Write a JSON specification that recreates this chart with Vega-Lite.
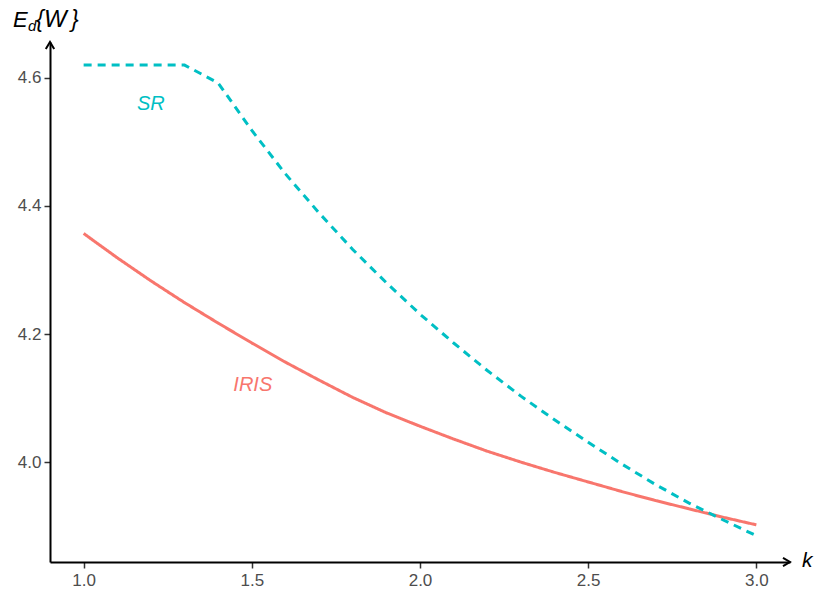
{
  "$schema": "https://vega.github.io/schema/vega-lite/v6.json",
  "width": 740,
  "height": 520,
  "autosize": {"type": "none"},
  "padding": {"left": 50, "top": 42, "right": 27, "bottom": 32},
  "background": "white",
  "config": {
    "view": {"stroke": null},
    "font": "Liberation Sans"
  },
  "datasets": {
    "curves": [
      {"k": 1.0, "value": 4.357, "method": "IRIS"},
      {"k": 1.1, "value": 4.319, "method": "IRIS"},
      {"k": 1.2, "value": 4.283, "method": "IRIS"},
      {"k": 1.3, "value": 4.249, "method": "IRIS"},
      {"k": 1.4, "value": 4.217, "method": "IRIS"},
      {"k": 1.5, "value": 4.186, "method": "IRIS"},
      {"k": 1.6, "value": 4.156, "method": "IRIS"},
      {"k": 1.7, "value": 4.128, "method": "IRIS"},
      {"k": 1.8, "value": 4.101, "method": "IRIS"},
      {"k": 1.9, "value": 4.077, "method": "IRIS"},
      {"k": 2.0, "value": 4.056, "method": "IRIS"},
      {"k": 2.1, "value": 4.036, "method": "IRIS"},
      {"k": 2.2, "value": 4.017, "method": "IRIS"},
      {"k": 2.3, "value": 4.000, "method": "IRIS"},
      {"k": 2.4, "value": 3.984, "method": "IRIS"},
      {"k": 2.5, "value": 3.969, "method": "IRIS"},
      {"k": 2.6, "value": 3.954, "method": "IRIS"},
      {"k": 2.7, "value": 3.940, "method": "IRIS"},
      {"k": 2.8, "value": 3.927, "method": "IRIS"},
      {"k": 2.9, "value": 3.914, "method": "IRIS"},
      {"k": 3.0, "value": 3.902, "method": "IRIS"},
      {"k": 1.0, "value": 4.620, "method": "SR"},
      {"k": 1.1, "value": 4.620, "method": "SR"},
      {"k": 1.2, "value": 4.620, "method": "SR"},
      {"k": 1.3, "value": 4.620, "method": "SR"},
      {"k": 1.4, "value": 4.592, "method": "SR"},
      {"k": 1.5, "value": 4.518, "method": "SR"},
      {"k": 1.6, "value": 4.450, "method": "SR"},
      {"k": 1.7, "value": 4.389, "method": "SR"},
      {"k": 1.8, "value": 4.332, "method": "SR"},
      {"k": 1.9, "value": 4.280, "method": "SR"},
      {"k": 2.0, "value": 4.231, "method": "SR"},
      {"k": 2.1, "value": 4.186, "method": "SR"},
      {"k": 2.2, "value": 4.143, "method": "SR"},
      {"k": 2.3, "value": 4.103, "method": "SR"},
      {"k": 2.4, "value": 4.066, "method": "SR"},
      {"k": 2.5, "value": 4.031, "method": "SR"},
      {"k": 2.6, "value": 3.997, "method": "SR"},
      {"k": 2.7, "value": 3.965, "method": "SR"},
      {"k": 2.8, "value": 3.936, "method": "SR"},
      {"k": 2.9, "value": 3.910, "method": "SR"},
      {"k": 3.0, "value": 3.885, "method": "SR"}
    ],
    "labels": [
      {"k": 1.2, "value": 4.559, "method": "SR", "label": "SR"},
      {"k": 1.503, "value": 4.121, "method": "IRIS", "label": "IRIS"}
    ],
    "one": [{}]
  },
  "layer": [
    {
      "data": {"name": "curves"},
      "mark": {"type": "line", "strokeWidth": 3, "clip": false},
      "encoding": {
        "x": {
          "field": "k", "type": "quantitative",
          "scale": {"domain": [0.9, 3.1], "nice": false, "zero": false},
          "axis": {
            "title": null, "values": [1.0, 1.5, 2.0, 2.5, 3.0], "format": ".1f",
            "grid": false, "domainColor": "black", "domainWidth": 2,
            "tickColor": "#333333", "tickWidth": 1.5, "tickSize": 6,
            "labelColor": "#4D4D4D", "labelFontSize": 17, "labelPadding": 4,
            "labelFont": "Liberation Sans"
          }
        },
        "y": {
          "field": "value", "type": "quantitative",
          "scale": {"domain": [3.844, 4.656], "nice": false, "zero": false},
          "axis": {
            "title": null, "values": [4.0, 4.2, 4.4, 4.6], "format": ".1f",
            "grid": false, "domainColor": "black", "domainWidth": 2,
            "tickColor": "#333333", "tickWidth": 1.5, "tickSize": 6,
            "labelColor": "#4D4D4D", "labelFontSize": 17, "labelPadding": 3,
            "labelFont": "Liberation Sans"
          }
        },
        "color": {
          "field": "method", "type": "nominal",
          "scale": {"domain": ["IRIS", "SR"], "range": ["#F8766D", "#00BFC4"]},
          "legend": null
        },
        "strokeDash": {
          "field": "method", "type": "nominal",
          "scale": {"domain": ["IRIS", "SR"], "range": [[1, 0], [8, 6]]},
          "legend": null
        }
      }
    },
    {
      "data": {"name": "labels"},
      "mark": {"type": "text", "fontSize": 20, "fontStyle": "italic", "font": "Liberation Sans", "align": "center", "baseline": "middle"},
      "encoding": {
        "x": {"field": "k", "type": "quantitative"},
        "y": {"field": "value", "type": "quantitative"},
        "text": {"field": "label"},
        "color": {"field": "method", "type": "nominal", "legend": null}
      }
    },
    {
      "data": {"name": "one"},
      "mark": {"type": "point", "shape": "M -0.6 1 L 0 0 L 0.6 1", "size": 196, "filled": false, "stroke": "black", "strokeWidth": 2, "opacity": 1, "clip": false},
      "encoding": {"x": {"datum": 0.9}, "y": {"datum": 4.656}}
    },
    {
      "data": {"name": "one"},
      "mark": {"type": "point", "shape": "M -1 -0.6 L 0 0 L -1 0.6", "size": 196, "filled": false, "stroke": "black", "strokeWidth": 2, "opacity": 1, "clip": false},
      "encoding": {"x": {"datum": 3.1}, "y": {"datum": 3.844}}
    },
    {
      "data": {"name": "one"},
      "mark": {"type": "text", "text": "E", "fontSize": 22, "fontStyle": "italic", "font": "Liberation Sans", "align": "left", "baseline": "alphabetic", "dx": -37, "dy": -15, "color": "black"},
      "encoding": {"x": {"datum": 0.9}, "y": {"datum": 4.656}}
    },
    {
      "data": {"name": "one"},
      "mark": {"type": "text", "text": "d", "fontSize": 15, "fontStyle": "italic", "font": "Liberation Sans", "align": "left", "baseline": "alphabetic", "dx": -22, "dy": -11, "color": "black"},
      "encoding": {"x": {"datum": 0.9}, "y": {"datum": 4.656}}
    },
    {
      "data": {"name": "one"},
      "mark": {"type": "text", "text": "{", "fontSize": 23, "fontStyle": "italic", "font": "Liberation Sans", "align": "left", "baseline": "alphabetic", "dx": -14, "dy": -15, "color": "black"},
      "encoding": {"x": {"datum": 0.9}, "y": {"datum": 4.656}}
    },
    {
      "data": {"name": "one"},
      "mark": {"type": "text", "text": "W", "fontSize": 24, "fontStyle": "italic", "font": "Liberation Sans", "align": "left", "baseline": "alphabetic", "dx": -6, "dy": -15, "color": "black"},
      "encoding": {"x": {"datum": 0.9}, "y": {"datum": 4.656}}
    },
    {
      "data": {"name": "one"},
      "mark": {"type": "text", "text": "}", "fontSize": 23, "fontStyle": "italic", "font": "Liberation Sans", "align": "left", "baseline": "alphabetic", "dx": 21, "dy": -15, "color": "black"},
      "encoding": {"x": {"datum": 0.9}, "y": {"datum": 4.656}}
    },
    {
      "data": {"name": "one"},
      "mark": {"type": "text", "text": "k", "fontSize": 21, "fontStyle": "italic", "font": "Liberation Sans", "align": "left", "baseline": "alphabetic", "dx": 12, "dy": 5, "color": "black"},
      "encoding": {"x": {"datum": 3.1}, "y": {"datum": 3.844}}
    }
  ]
}
